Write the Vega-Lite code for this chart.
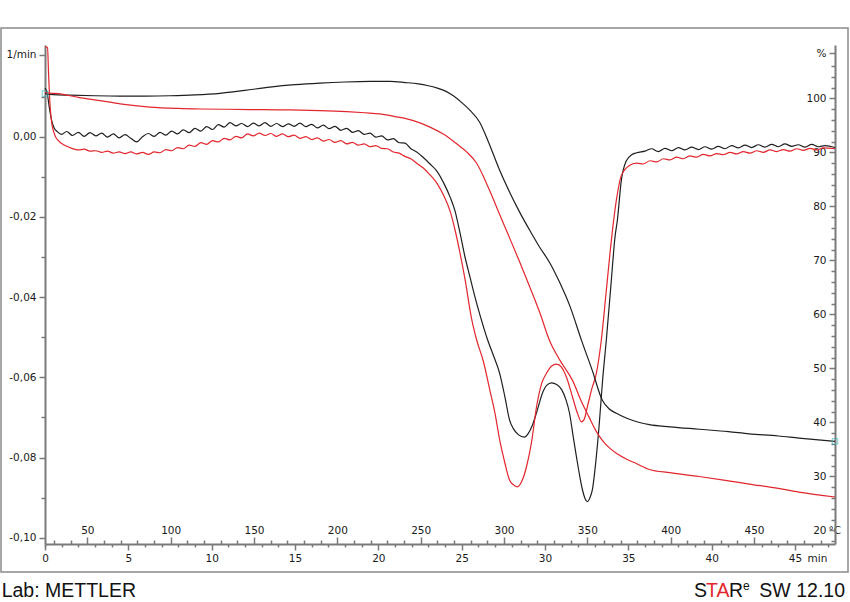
{
  "$schema": "https://vega.github.io/schema/vega-lite/v6.json",
  "width": 790,
  "height": 499,
  "autosize": {"type": "none"},
  "padding": {"left": 45, "top": 45, "right": 15, "bottom": 58},
  "background": "white",
  "config": {
    "view": {"stroke": null},
    "axis": {
      "grid": false,
      "labelFont": "DejaVu Sans",
      "labelFontSize": 10.5,
      "labelColor": "#1a1a1a",
      "domainColor": "#7a7a7a",
      "domainWidth": 2,
      "tickColor": "#7a7a7a",
      "tickWidth": 1.5,
      "titleFont": "DejaVu Sans",
      "titleFontSize": 10.5,
      "titleFontWeight": "normal",
      "titleColor": "#1a1a1a",
      "labelOverlap": false,
      "labelFlush": false
    }
  },
  "datasets": {
    "dtg": [
      {"t": 0, "rate": 0.0121, "run": "A"},
      {"t": 0.12, "rate": 0.0112, "run": "A"},
      {"t": 0.25, "rate": 0.0075, "run": "A"},
      {"t": 0.4, "rate": 0.004, "run": "A"},
      {"t": 0.55, "rate": 0.0022, "run": "A"},
      {"t": 0.75, "rate": 0.0012, "run": "A"},
      {"t": 1.0, "rate": 0.0006, "run": "A"},
      {"t": 1.3, "rate": 0.0013, "run": "A"},
      {"t": 1.65, "rate": 0.0003, "run": "A"},
      {"t": 2.0, "rate": 0.0011, "run": "A"},
      {"t": 2.35, "rate": 0.0001, "run": "A"},
      {"t": 2.7, "rate": 0.001, "run": "A"},
      {"t": 3.05, "rate": 0.0002, "run": "A"},
      {"t": 3.4, "rate": 0.0009, "run": "A"},
      {"t": 3.75, "rate": -0.0001, "run": "A"},
      {"t": 4.1, "rate": 0.0007, "run": "A"},
      {"t": 4.45, "rate": -0.0003, "run": "A"},
      {"t": 4.8, "rate": 0.0005, "run": "A"},
      {"t": 5.15, "rate": -0.0004, "run": "A"},
      {"t": 5.5, "rate": -0.0013, "run": "A"},
      {"t": 5.85, "rate": 0.0, "run": "A"},
      {"t": 6.2, "rate": 0.0008, "run": "A"},
      {"t": 6.55, "rate": 0.0001, "run": "A"},
      {"t": 6.9, "rate": 0.0011, "run": "A"},
      {"t": 7.25, "rate": 0.0004, "run": "A"},
      {"t": 7.6, "rate": 0.0014, "run": "A"},
      {"t": 7.95, "rate": 0.0007, "run": "A"},
      {"t": 8.3, "rate": 0.0017, "run": "A"},
      {"t": 8.65, "rate": 0.001, "run": "A"},
      {"t": 9.0, "rate": 0.0021, "run": "A"},
      {"t": 9.35, "rate": 0.0014, "run": "A"},
      {"t": 9.7, "rate": 0.0025, "run": "A"},
      {"t": 10.05, "rate": 0.0018, "run": "A"},
      {"t": 10.4, "rate": 0.003, "run": "A"},
      {"t": 10.75, "rate": 0.0024, "run": "A"},
      {"t": 11.1, "rate": 0.0035, "run": "A"},
      {"t": 11.45, "rate": 0.0027, "run": "A"},
      {"t": 11.8, "rate": 0.0033, "run": "A"},
      {"t": 12.15, "rate": 0.0025, "run": "A"},
      {"t": 12.5, "rate": 0.0034, "run": "A"},
      {"t": 12.85, "rate": 0.0027, "run": "A"},
      {"t": 13.2, "rate": 0.0035, "run": "A"},
      {"t": 13.55, "rate": 0.0026, "run": "A"},
      {"t": 13.9, "rate": 0.0033, "run": "A"},
      {"t": 14.25, "rate": 0.0025, "run": "A"},
      {"t": 14.6, "rate": 0.0032, "run": "A"},
      {"t": 14.95, "rate": 0.0026, "run": "A"},
      {"t": 15.3, "rate": 0.0034, "run": "A"},
      {"t": 15.65, "rate": 0.0025, "run": "A"},
      {"t": 16.0, "rate": 0.0031, "run": "A"},
      {"t": 16.35, "rate": 0.0022, "run": "A"},
      {"t": 16.7, "rate": 0.0029, "run": "A"},
      {"t": 17.05, "rate": 0.002, "run": "A"},
      {"t": 17.4, "rate": 0.0026, "run": "A"},
      {"t": 17.75, "rate": 0.0016, "run": "A"},
      {"t": 18.1, "rate": 0.0021, "run": "A"},
      {"t": 18.45, "rate": 0.0011, "run": "A"},
      {"t": 18.8, "rate": 0.0015, "run": "A"},
      {"t": 19.15, "rate": 0.0006, "run": "A"},
      {"t": 19.5, "rate": 0.0009, "run": "A"},
      {"t": 19.85, "rate": -0.0001, "run": "A"},
      {"t": 20.2, "rate": 0.0002, "run": "A"},
      {"t": 20.55, "rate": -0.0008, "run": "A"},
      {"t": 20.9, "rate": -0.0005, "run": "A"},
      {"t": 21.25, "rate": -0.0015, "run": "A"},
      {"t": 21.6, "rate": -0.0016, "run": "A"},
      {"t": 21.95, "rate": -0.003, "run": "A"},
      {"t": 22.3, "rate": -0.0038, "run": "A"},
      {"t": 22.7, "rate": -0.0052, "run": "A"},
      {"t": 23.1, "rate": -0.0068, "run": "A"},
      {"t": 23.5, "rate": -0.0085, "run": "A"},
      {"t": 24.0, "rate": -0.0122, "run": "A"},
      {"t": 24.3, "rate": -0.015, "run": "A"},
      {"t": 24.6, "rate": -0.0185, "run": "A"},
      {"t": 24.9, "rate": -0.024, "run": "A"},
      {"t": 25.2, "rate": -0.03, "run": "A"},
      {"t": 25.5, "rate": -0.035, "run": "A"},
      {"t": 25.8, "rate": -0.04, "run": "A"},
      {"t": 26.1, "rate": -0.0445, "run": "A"},
      {"t": 26.56, "rate": -0.0507, "run": "A"},
      {"t": 26.9, "rate": -0.0545, "run": "A"},
      {"t": 27.28, "rate": -0.059, "run": "A"},
      {"t": 27.6, "rate": -0.065, "run": "A"},
      {"t": 27.87, "rate": -0.0706, "run": "A"},
      {"t": 28.1, "rate": -0.0728, "run": "A"},
      {"t": 28.4, "rate": -0.0743, "run": "A"},
      {"t": 28.77, "rate": -0.0749, "run": "A"},
      {"t": 29.0, "rate": -0.074, "run": "A"},
      {"t": 29.25, "rate": -0.0719, "run": "A"},
      {"t": 29.55, "rate": -0.068, "run": "A"},
      {"t": 29.85, "rate": -0.0639, "run": "A"},
      {"t": 30.1, "rate": -0.062, "run": "A"},
      {"t": 30.39, "rate": -0.0614, "run": "A"},
      {"t": 30.7, "rate": -0.0618, "run": "A"},
      {"t": 30.99, "rate": -0.063, "run": "A"},
      {"t": 31.25, "rate": -0.0655, "run": "A"},
      {"t": 31.47, "rate": -0.0689, "run": "A"},
      {"t": 31.7, "rate": -0.075, "run": "A"},
      {"t": 31.89, "rate": -0.0799, "run": "A"},
      {"t": 32.1, "rate": -0.085, "run": "A"},
      {"t": 32.25, "rate": -0.0881, "run": "A"},
      {"t": 32.4, "rate": -0.0902, "run": "A"},
      {"t": 32.54, "rate": -0.091, "run": "A"},
      {"t": 32.7, "rate": -0.09, "run": "A"},
      {"t": 32.84, "rate": -0.0881, "run": "A"},
      {"t": 33.05, "rate": -0.081, "run": "A"},
      {"t": 33.26, "rate": -0.0714, "run": "A"},
      {"t": 33.45, "rate": -0.061, "run": "A"},
      {"t": 33.68, "rate": -0.0507, "run": "A"},
      {"t": 33.98, "rate": -0.0358, "run": "A"},
      {"t": 34.2, "rate": -0.025, "run": "A"},
      {"t": 34.34, "rate": -0.0209, "run": "A"},
      {"t": 34.58, "rate": -0.0109, "run": "A"},
      {"t": 34.88, "rate": -0.006, "run": "A"},
      {"t": 35.2, "rate": -0.0045, "run": "A"},
      {"t": 35.5, "rate": -0.004, "run": "A"},
      {"t": 36.0, "rate": -0.0036, "run": "A"},
      {"t": 36.4, "rate": -0.003, "run": "A"},
      {"t": 36.8, "rate": -0.0037, "run": "A"},
      {"t": 37.2, "rate": -0.0029, "run": "A"},
      {"t": 37.6, "rate": -0.0035, "run": "A"},
      {"t": 38.0, "rate": -0.0027, "run": "A"},
      {"t": 38.4, "rate": -0.0033, "run": "A"},
      {"t": 38.8, "rate": -0.0026, "run": "A"},
      {"t": 39.2, "rate": -0.0032, "run": "A"},
      {"t": 39.6, "rate": -0.0025, "run": "A"},
      {"t": 40.0, "rate": -0.0031, "run": "A"},
      {"t": 40.4, "rate": -0.0024, "run": "A"},
      {"t": 40.8, "rate": -0.003, "run": "A"},
      {"t": 41.2, "rate": -0.0022, "run": "A"},
      {"t": 41.6, "rate": -0.0028, "run": "A"},
      {"t": 42.0, "rate": -0.0021, "run": "A"},
      {"t": 42.4, "rate": -0.0027, "run": "A"},
      {"t": 42.8, "rate": -0.002, "run": "A"},
      {"t": 43.2, "rate": -0.0026, "run": "A"},
      {"t": 43.6, "rate": -0.0019, "run": "A"},
      {"t": 44.0, "rate": -0.0025, "run": "A"},
      {"t": 44.4, "rate": -0.0018, "run": "A"},
      {"t": 44.8, "rate": -0.0024, "run": "A"},
      {"t": 45.2, "rate": -0.002, "run": "A"},
      {"t": 45.6, "rate": -0.0026, "run": "A"},
      {"t": 46.0, "rate": -0.0019, "run": "A"},
      {"t": 46.4, "rate": -0.0025, "run": "A"},
      {"t": 46.8, "rate": -0.0022, "run": "A"},
      {"t": 47.4, "rate": -0.0027, "run": "A"},

      {"t": 0, "rate": 0.0225, "run": "B"},
      {"t": 0.15, "rate": 0.0222, "run": "B"},
      {"t": 0.22, "rate": 0.015, "run": "B"},
      {"t": 0.3, "rate": 0.008, "run": "B"},
      {"t": 0.4, "rate": 0.0035, "run": "B"},
      {"t": 0.5, "rate": 0.0015, "run": "B"},
      {"t": 0.63, "rate": 0.0, "run": "B"},
      {"t": 0.8, "rate": -0.001, "run": "B"},
      {"t": 1.0, "rate": -0.0017, "run": "B"},
      {"t": 1.3, "rate": -0.0024, "run": "B"},
      {"t": 1.6, "rate": -0.0029, "run": "B"},
      {"t": 2.0, "rate": -0.0033, "run": "B"},
      {"t": 2.35, "rate": -0.0031, "run": "B"},
      {"t": 2.7, "rate": -0.0036, "run": "B"},
      {"t": 3.05, "rate": -0.0035, "run": "B"},
      {"t": 3.4, "rate": -0.0039, "run": "B"},
      {"t": 3.75, "rate": -0.0036, "run": "B"},
      {"t": 4.1, "rate": -0.0041, "run": "B"},
      {"t": 4.45, "rate": -0.0038, "run": "B"},
      {"t": 4.8, "rate": -0.0042, "run": "B"},
      {"t": 5.15, "rate": -0.0038, "run": "B"},
      {"t": 5.5, "rate": -0.0043, "run": "B"},
      {"t": 5.85, "rate": -0.0039, "run": "B"},
      {"t": 6.2, "rate": -0.0044, "run": "B"},
      {"t": 6.55, "rate": -0.0038, "run": "B"},
      {"t": 6.9, "rate": -0.004, "run": "B"},
      {"t": 7.25, "rate": -0.0032, "run": "B"},
      {"t": 7.6, "rate": -0.0035, "run": "B"},
      {"t": 7.95, "rate": -0.0027, "run": "B"},
      {"t": 8.3, "rate": -0.003, "run": "B"},
      {"t": 8.65, "rate": -0.0021, "run": "B"},
      {"t": 9.0, "rate": -0.0024, "run": "B"},
      {"t": 9.35, "rate": -0.0015, "run": "B"},
      {"t": 9.7, "rate": -0.0019, "run": "B"},
      {"t": 10.05, "rate": -0.001, "run": "B"},
      {"t": 10.4, "rate": -0.0013, "run": "B"},
      {"t": 10.75, "rate": -0.0004, "run": "B"},
      {"t": 11.1, "rate": -0.0008, "run": "B"},
      {"t": 11.45, "rate": 0.0001, "run": "B"},
      {"t": 11.8, "rate": -0.0003, "run": "B"},
      {"t": 12.15, "rate": 0.0007, "run": "B"},
      {"t": 12.5, "rate": 0.0002, "run": "B"},
      {"t": 12.85, "rate": 0.0009, "run": "B"},
      {"t": 13.2, "rate": 0.0003, "run": "B"},
      {"t": 13.55, "rate": 0.0008, "run": "B"},
      {"t": 13.9, "rate": 0.0001, "run": "B"},
      {"t": 14.25, "rate": 0.0007, "run": "B"},
      {"t": 14.6, "rate": 0.0, "run": "B"},
      {"t": 14.95, "rate": 0.0004, "run": "B"},
      {"t": 15.3, "rate": -0.0004, "run": "B"},
      {"t": 15.65, "rate": 0.0, "run": "B"},
      {"t": 16.0, "rate": -0.0007, "run": "B"},
      {"t": 16.35, "rate": -0.0003, "run": "B"},
      {"t": 16.7, "rate": -0.0011, "run": "B"},
      {"t": 17.05, "rate": -0.0007, "run": "B"},
      {"t": 17.4, "rate": -0.0014, "run": "B"},
      {"t": 17.75, "rate": -0.001, "run": "B"},
      {"t": 18.1, "rate": -0.0018, "run": "B"},
      {"t": 18.45, "rate": -0.0014, "run": "B"},
      {"t": 18.8, "rate": -0.0021, "run": "B"},
      {"t": 19.15, "rate": -0.0018, "run": "B"},
      {"t": 19.5, "rate": -0.0025, "run": "B"},
      {"t": 19.85, "rate": -0.0022, "run": "B"},
      {"t": 20.2, "rate": -0.0029, "run": "B"},
      {"t": 20.55, "rate": -0.003, "run": "B"},
      {"t": 20.9, "rate": -0.0038, "run": "B"},
      {"t": 21.25, "rate": -0.0041, "run": "B"},
      {"t": 21.6, "rate": -0.0049, "run": "B"},
      {"t": 21.95, "rate": -0.0055, "run": "B"},
      {"t": 22.3, "rate": -0.0066, "run": "B"},
      {"t": 22.7, "rate": -0.0078, "run": "B"},
      {"t": 23.1, "rate": -0.0095, "run": "B"},
      {"t": 23.5, "rate": -0.0115, "run": "B"},
      {"t": 23.9, "rate": -0.0145, "run": "B"},
      {"t": 24.3, "rate": -0.0185, "run": "B"},
      {"t": 24.6, "rate": -0.0232, "run": "B"},
      {"t": 24.9, "rate": -0.029, "run": "B"},
      {"t": 25.2, "rate": -0.0355, "run": "B"},
      {"t": 25.6, "rate": -0.0455, "run": "B"},
      {"t": 25.9, "rate": -0.0507, "run": "B"},
      {"t": 26.3, "rate": -0.056, "run": "B"},
      {"t": 26.68, "rate": -0.063, "run": "B"},
      {"t": 27.0, "rate": -0.069, "run": "B"},
      {"t": 27.28, "rate": -0.0756, "run": "B"},
      {"t": 27.6, "rate": -0.0815, "run": "B"},
      {"t": 27.87, "rate": -0.0856, "run": "B"},
      {"t": 28.1, "rate": -0.0868, "run": "B"},
      {"t": 28.35, "rate": -0.0873, "run": "B"},
      {"t": 28.6, "rate": -0.086, "run": "B"},
      {"t": 28.89, "rate": -0.0823, "run": "B"},
      {"t": 29.2, "rate": -0.076, "run": "B"},
      {"t": 29.49, "rate": -0.0674, "run": "B"},
      {"t": 29.8, "rate": -0.0615, "run": "B"},
      {"t": 30.09, "rate": -0.059, "run": "B"},
      {"t": 30.4, "rate": -0.0572, "run": "B"},
      {"t": 30.69, "rate": -0.0567, "run": "B"},
      {"t": 31.0, "rate": -0.0575, "run": "B"},
      {"t": 31.29, "rate": -0.06, "run": "B"},
      {"t": 31.65, "rate": -0.0649, "run": "B"},
      {"t": 31.95, "rate": -0.069, "run": "B"},
      {"t": 32.19, "rate": -0.0711, "run": "B"},
      {"t": 32.35, "rate": -0.0705, "run": "B"},
      {"t": 32.54, "rate": -0.0674, "run": "B"},
      {"t": 32.8, "rate": -0.063, "run": "B"},
      {"t": 33.08, "rate": -0.059, "run": "B"},
      {"t": 33.38, "rate": -0.0507, "run": "B"},
      {"t": 33.68, "rate": -0.0383, "run": "B"},
      {"t": 33.98, "rate": -0.0259, "run": "B"},
      {"t": 34.28, "rate": -0.0159, "run": "B"},
      {"t": 34.58, "rate": -0.0097, "run": "B"},
      {"t": 35.06, "rate": -0.0072, "run": "B"},
      {"t": 35.5, "rate": -0.0066, "run": "B"},
      {"t": 35.9, "rate": -0.0068, "run": "B"},
      {"t": 36.3, "rate": -0.006, "run": "B"},
      {"t": 36.7, "rate": -0.0063, "run": "B"},
      {"t": 37.1, "rate": -0.0055, "run": "B"},
      {"t": 37.5, "rate": -0.0058, "run": "B"},
      {"t": 37.9, "rate": -0.0051, "run": "B"},
      {"t": 38.3, "rate": -0.0055, "run": "B"},
      {"t": 38.7, "rate": -0.0048, "run": "B"},
      {"t": 39.1, "rate": -0.0051, "run": "B"},
      {"t": 39.5, "rate": -0.0044, "run": "B"},
      {"t": 39.9, "rate": -0.0048, "run": "B"},
      {"t": 40.3, "rate": -0.0042, "run": "B"},
      {"t": 40.7, "rate": -0.0045, "run": "B"},
      {"t": 41.1, "rate": -0.0039, "run": "B"},
      {"t": 41.5, "rate": -0.0043, "run": "B"},
      {"t": 41.9, "rate": -0.0037, "run": "B"},
      {"t": 42.3, "rate": -0.0041, "run": "B"},
      {"t": 42.7, "rate": -0.0035, "run": "B"},
      {"t": 43.1, "rate": -0.0039, "run": "B"},
      {"t": 43.5, "rate": -0.0033, "run": "B"},
      {"t": 43.9, "rate": -0.0037, "run": "B"},
      {"t": 44.3, "rate": -0.0032, "run": "B"},
      {"t": 44.7, "rate": -0.0036, "run": "B"},
      {"t": 45.1, "rate": -0.003, "run": "B"},
      {"t": 45.5, "rate": -0.0034, "run": "B"},
      {"t": 45.9, "rate": -0.0029, "run": "B"},
      {"t": 46.3, "rate": -0.0033, "run": "B"},
      {"t": 46.7, "rate": -0.0028, "run": "B"},
      {"t": 47.4, "rate": -0.003, "run": "B"}
    ],
    "tga": [
      {"t": 0, "pct": 100.9, "run": "A"},
      {"t": 0.5, "pct": 100.7, "run": "A"},
      {"t": 1.5, "pct": 100.6, "run": "A"},
      {"t": 3, "pct": 100.5, "run": "A"},
      {"t": 4.5, "pct": 100.45, "run": "A"},
      {"t": 6, "pct": 100.45, "run": "A"},
      {"t": 7.5, "pct": 100.5, "run": "A"},
      {"t": 9, "pct": 100.65, "run": "A"},
      {"t": 10.5, "pct": 100.95, "run": "A"},
      {"t": 12, "pct": 101.5, "run": "A"},
      {"t": 13.5, "pct": 102.1, "run": "A"},
      {"t": 15, "pct": 102.55, "run": "A"},
      {"t": 16.5, "pct": 102.85, "run": "A"},
      {"t": 18, "pct": 103.05, "run": "A"},
      {"t": 19.5, "pct": 103.15, "run": "A"},
      {"t": 20.7, "pct": 103.15, "run": "A"},
      {"t": 21.6, "pct": 102.95, "run": "A"},
      {"t": 22.4, "pct": 102.7, "run": "A"},
      {"t": 23.0, "pct": 102.35, "run": "A"},
      {"t": 23.5, "pct": 101.95, "run": "A"},
      {"t": 24.0, "pct": 101.4, "run": "A"},
      {"t": 24.5, "pct": 100.5, "run": "A"},
      {"t": 25.06, "pct": 99.1, "run": "A"},
      {"t": 25.5, "pct": 97.8, "run": "A"},
      {"t": 26.08, "pct": 95.6, "run": "A"},
      {"t": 26.6, "pct": 92.0, "run": "A"},
      {"t": 27.28, "pct": 86.7, "run": "A"},
      {"t": 27.9, "pct": 82.5, "run": "A"},
      {"t": 28.47, "pct": 79.0, "run": "A"},
      {"t": 29.1, "pct": 75.5, "run": "A"},
      {"t": 29.67, "pct": 72.5, "run": "A"},
      {"t": 30.3, "pct": 69.5, "run": "A"},
      {"t": 30.87, "pct": 66.0, "run": "A"},
      {"t": 31.5, "pct": 61.5, "run": "A"},
      {"t": 32.19, "pct": 55.2, "run": "A"},
      {"t": 32.84, "pct": 49.6, "run": "A"},
      {"t": 33.44, "pct": 44.1, "run": "A"},
      {"t": 33.86, "pct": 42.5, "run": "A"},
      {"t": 34.28, "pct": 41.7, "run": "A"},
      {"t": 35.06, "pct": 40.6, "run": "A"},
      {"t": 36.26, "pct": 39.6, "run": "A"},
      {"t": 37.5, "pct": 39.2, "run": "A"},
      {"t": 39.25, "pct": 38.75, "run": "A"},
      {"t": 41, "pct": 38.3, "run": "A"},
      {"t": 42.25, "pct": 37.9, "run": "A"},
      {"t": 44, "pct": 37.5, "run": "A"},
      {"t": 45.24, "pct": 37.1, "run": "A"},
      {"t": 47.4, "pct": 36.5, "run": "A"},

      {"t": 0, "pct": 101.1, "run": "B"},
      {"t": 0.3, "pct": 101.0, "run": "B"},
      {"t": 1, "pct": 100.8, "run": "B"},
      {"t": 2, "pct": 100.2, "run": "B"},
      {"t": 3.3, "pct": 99.6, "run": "B"},
      {"t": 4.5, "pct": 99.0, "run": "B"},
      {"t": 6.3, "pct": 98.4, "run": "B"},
      {"t": 8, "pct": 98.15, "run": "B"},
      {"t": 9.3, "pct": 98.05, "run": "B"},
      {"t": 11, "pct": 98.0, "run": "B"},
      {"t": 12.3, "pct": 97.95, "run": "B"},
      {"t": 14, "pct": 97.9, "run": "B"},
      {"t": 15.3, "pct": 97.85, "run": "B"},
      {"t": 16.5, "pct": 97.75, "run": "B"},
      {"t": 18.1, "pct": 97.55, "run": "B"},
      {"t": 19.2, "pct": 97.35, "run": "B"},
      {"t": 20.1, "pct": 97.15, "run": "B"},
      {"t": 21.1, "pct": 96.6, "run": "B"},
      {"t": 22.1, "pct": 95.9, "run": "B"},
      {"t": 23.1, "pct": 94.7, "run": "B"},
      {"t": 23.9, "pct": 93.4, "run": "B"},
      {"t": 24.7, "pct": 91.6, "run": "B"},
      {"t": 25.3, "pct": 90.1, "run": "B"},
      {"t": 25.9, "pct": 88.0, "run": "B"},
      {"t": 26.6, "pct": 83.5, "run": "B"},
      {"t": 27.28, "pct": 78.5, "run": "B"},
      {"t": 27.9, "pct": 74.0, "run": "B"},
      {"t": 28.47, "pct": 69.8, "run": "B"},
      {"t": 29.1, "pct": 65.0, "run": "B"},
      {"t": 29.67, "pct": 60.5, "run": "B"},
      {"t": 30.27, "pct": 55.2, "run": "B"},
      {"t": 30.9, "pct": 51.5, "run": "B"},
      {"t": 31.65, "pct": 47.8, "run": "B"},
      {"t": 32.2, "pct": 43.8, "run": "B"},
      {"t": 32.66, "pct": 40.9, "run": "B"},
      {"t": 33.05, "pct": 38.5, "run": "B"},
      {"t": 33.44, "pct": 36.7, "run": "B"},
      {"t": 33.9, "pct": 35.2, "run": "B"},
      {"t": 34.28, "pct": 34.3, "run": "B"},
      {"t": 34.9, "pct": 33.2, "run": "B"},
      {"t": 35.48, "pct": 32.4, "run": "B"},
      {"t": 36.26, "pct": 31.3, "run": "B"},
      {"t": 37.5, "pct": 30.7, "run": "B"},
      {"t": 39.25, "pct": 30.0, "run": "B"},
      {"t": 41, "pct": 29.2, "run": "B"},
      {"t": 42.25, "pct": 28.6, "run": "B"},
      {"t": 44, "pct": 27.8, "run": "B"},
      {"t": 45.24, "pct": 27.1, "run": "B"},
      {"t": 47.4, "pct": 26.2, "run": "B"}
    ],
    "labels": [
      {"part": "Lab: METTLER"}
    ]
  },
  "layer": [
    {
      "data": {"values": [{"box": "frame"}]},
      "mark": {"type": "rect", "fill": "white", "fillOpacity": 0, "stroke": "#8a8a8a", "strokeWidth": 1.5},
      "encoding": {
        "x": {"datum": -2.64, "type": "quantitative", "scale": {"domain": [0, 47.4], "nice": false, "zero": false}, "axis": null},
        "x2": {"datum": 48.18},
        "y": {"datum": 0.02711, "type": "quantitative", "scale": {"domain": [-0.10157, 0.02287], "nice": false, "zero": false}, "axis": null},
        "y2": {"datum": -0.10855}
      }
    },
    {
      "data": {"values": [{"tick": 0}]},
      "mark": {"type": "point", "opacity": 0},
      "encoding": {
        "x": {
          "field": "tick", "type": "quantitative",
          "scale": {"domain": [0, 47.4], "nice": false, "zero": false},
          "axis": {
            "orient": "bottom",
            "values": [0,1,2,3,4,6,7,8,9,11,12,13,14,16,17,18,19,21,22,23,24,26,27,28,29,31,32,33,34,36,37,38,39,41,42,43,44,46,47],
            "labels": false,
            "domain": false,
            "tickSize": 3,
            "title": null
          }
        }
      }
    },
    {
      "data": {"name": "dtg"},
      "mark": {"type": "line", "strokeWidth": 1.2, "interpolate": "monotone"},
      "encoding": {
        "x": {
          "field": "t", "type": "quantitative",
          "scale": {"domain": [0, 47.4], "nice": false, "zero": false},
          "axis": {
            "orient": "bottom",
            "values": [0, 5, 10, 15, 20, 25, 30, 35, 40, 45],
            "labelOverlap": false,
            "tickSize": 6,
            "labelPadding": 3,
            "title": "min",
            "titleX": 772,
            "titleY": 9,
            "titleAlign": "center",
            "titleBaseline": "top"
          }
        },
        "y": {
          "field": "rate", "type": "quantitative",
          "scale": {"domain": [-0.10157, 0.02287], "nice": false, "zero": false},
          "axis": {
            "orient": "left",
            "values": [-0.1, -0.09, -0.08, -0.07, -0.06, -0.05, -0.04, -0.03, -0.02, -0.01, 0, 0.01, 0.0205],
            "labelExpr": "datum.value > 0.015 ? '1/min' : (abs(round(datum.value*100)) % 2 === 0 ? (datum.value < -0.001 ? '-' : '') + replace(format(abs(datum.value), '.2f'), '.', ',') : '')",
            "labelOverlap": false,
            "tickSize": {"condition": {"test": "abs(round(datum.value*100)) % 2 === 0", "value": 6}, "value": 4},
            "labelPadding": 3,
            "title": null
          }
        },
        "color": {"field": "run", "type": "nominal", "scale": {"domain": ["A", "B"], "range": ["#1f1f1f", "#e3262d"]}, "legend": null}
      }
    },
    {
      "data": {"name": "tga"},
      "mark": {"type": "line", "strokeWidth": 1.2, "interpolate": "monotone"},
      "encoding": {
        "x": {"field": "t", "type": "quantitative", "scale": {"domain": [0, 47.4], "nice": false, "zero": false}, "axis": null},
        "y": {
          "field": "pct", "type": "quantitative",
          "scale": {"domain": [17.5, 109.9], "nice": false, "zero": false},
          "axis": {
            "orient": "left",
            "offset": -790,
            "values": [18,20,22,24,26,28,30,32,34,36,38,40,42,44,46,48,50,52,54,56,58,60,62,64,66,68,70,72,74,76,78,80,82,84,86,88,90,92,94,96,98,100,102,104,106,108.4],
            "labelExpr": "datum.value > 108 ? '%' : (datum.value % 10 === 0 ? datum.label : '')",
            "labelOverlap": false,
            "tickSize": {"condition": {"test": "datum.value % 10 === 0 || datum.value > 108", "value": 6}, "value": 4},
            "labelPadding": 3,
            "title": null
          }
        },
        "color": {"field": "run", "type": "nominal", "scale": {"domain": ["A", "B"], "range": ["#1f1f1f", "#e3262d"]}, "legend": null}
      }
    },
    {
      "data": {"name": "tga"},
      "transform": [{"filter": "datum.run === 'A' && (datum.t === 0 || datum.t === 47.4)"}],
      "mark": {"type": "point", "shape": "square", "size": 30, "filled": false, "stroke": "#3fb6c0", "strokeWidth": 1, "clip": false},
      "encoding": {
        "x": {"field": "t", "type": "quantitative", "scale": {"domain": [0, 47.4], "nice": false, "zero": false}, "axis": null},
        "y": {"field": "pct", "type": "quantitative", "scale": {"domain": [17.5, 109.9], "nice": false, "zero": false}, "axis": null}
      }
    },
    {
      "data": {"values": [{"temp": 100}]},
      "mark": {"type": "point", "opacity": 0},
      "encoding": {
        "x": {
          "field": "temp", "type": "quantitative",
          "scale": {"domain": [24.6, 498.6], "nice": false, "zero": false},
          "axis": {
            "orient": "top",
            "offset": -499,
            "values": [30,40,50,60,70,80,90,100,110,120,130,140,150,160,170,180,190,200,210,220,230,240,250,260,270,280,290,300,310,320,330,340,350,360,370,380,390,400,410,420,430,440,450,460,470,480,490],
            "labelExpr": "datum.value % 50 === 0 ? datum.label : ''",
            "labelOverlap": false,
            "tickSize": {"condition": {"test": "datum.value % 50 === 0", "value": 7}, "value": 4},
            "labelPadding": 2,
            "domain": false,
            "title": "°C",
            "titleX": 783,
            "titleY": -9,
            "titleAlign": "left",
            "titleBaseline": "bottom"
          }
        }
      }
    },
    {
      "data": {"name": "labels"},
      "mark": {"type": "text", "align": "left", "baseline": "alphabetic", "font": "Liberation Sans", "fontSize": 19.5, "color": "#111111"},
      "encoding": {
        "x": {"datum": -2.6, "type": "quantitative", "scale": {"domain": [0, 47.4], "nice": false, "zero": false}, "axis": null},
        "y": {"datum": -0.1148, "type": "quantitative", "scale": {"domain": [-0.10157, 0.02287], "nice": false, "zero": false}, "axis": null},
        "text": {"field": "part"}
      }
    },
    {
      "data": {"values": [{"part": "S"}]},
      "mark": {"type": "text", "align": "left", "baseline": "alphabetic", "font": "Liberation Sans", "fontSize": 19.5, "color": "#111111", "dx": -151},
      "encoding": {
        "x": {"datum": 48.0, "type": "quantitative", "scale": {"domain": [0, 47.4], "nice": false, "zero": false}, "axis": null},
        "y": {"datum": -0.1148, "type": "quantitative", "scale": {"domain": [-0.10157, 0.02287], "nice": false, "zero": false}, "axis": null},
        "text": {"field": "part"}
      }
    },
    {
      "data": {"values": [{"part": "TA"}]},
      "mark": {"type": "text", "align": "left", "baseline": "alphabetic", "font": "Liberation Sans", "fontSize": 19.5, "color": "#e3262d", "dx": -139},
      "encoding": {
        "x": {"datum": 48.0, "type": "quantitative", "scale": {"domain": [0, 47.4], "nice": false, "zero": false}, "axis": null},
        "y": {"datum": -0.1148, "type": "quantitative", "scale": {"domain": [-0.10157, 0.02287], "nice": false, "zero": false}, "axis": null},
        "text": {"field": "part"}
      }
    },
    {
      "data": {"values": [{"part": "R"}]},
      "mark": {"type": "text", "align": "left", "baseline": "alphabetic", "font": "Liberation Sans", "fontSize": 19.5, "color": "#111111", "dx": -116},
      "encoding": {
        "x": {"datum": 48.0, "type": "quantitative", "scale": {"domain": [0, 47.4], "nice": false, "zero": false}, "axis": null},
        "y": {"datum": -0.1148, "type": "quantitative", "scale": {"domain": [-0.10157, 0.02287], "nice": false, "zero": false}, "axis": null},
        "text": {"field": "part"}
      }
    },
    {
      "data": {"values": [{"part": "e"}]},
      "mark": {"type": "text", "align": "left", "baseline": "alphabetic", "font": "Liberation Sans", "fontSize": 12, "color": "#111111", "dx": -102, "dy": -7},
      "encoding": {
        "x": {"datum": 48.0, "type": "quantitative", "scale": {"domain": [0, 47.4], "nice": false, "zero": false}, "axis": null},
        "y": {"datum": -0.1148, "type": "quantitative", "scale": {"domain": [-0.10157, 0.02287], "nice": false, "zero": false}, "axis": null},
        "text": {"field": "part"}
      }
    },
    {
      "data": {"values": [{"part": "SW 12.10"}]},
      "mark": {"type": "text", "align": "right", "baseline": "alphabetic", "font": "Liberation Sans", "fontSize": 19.5, "color": "#111111"},
      "encoding": {
        "x": {"datum": 48.0, "type": "quantitative", "scale": {"domain": [0, 47.4], "nice": false, "zero": false}, "axis": null},
        "y": {"datum": -0.1148, "type": "quantitative", "scale": {"domain": [-0.10157, 0.02287], "nice": false, "zero": false}, "axis": null},
        "text": {"field": "part"}
      }
    }
  ],
  "resolve": {"scale": {"x": "independent", "y": "independent"}}
}
